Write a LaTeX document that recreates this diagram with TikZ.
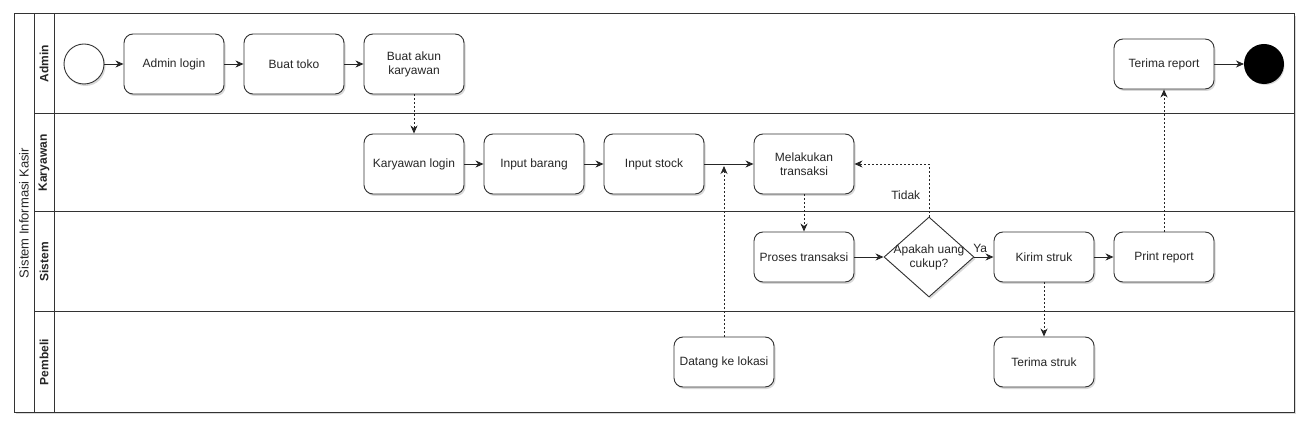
\documentclass[tikz,border=0pt]{standalone}
\usepackage{fontspec}
\setmainfont{Liberation Sans}
\usetikzlibrary{positioning, arrows.meta, shapes.geometric, shadows}
\tikzset {
    >={Stealth[length=8pt, width=7pt, inset=2.5pt]},
    node distance=120pt,
    every node/.style={font=\fontsize{12}{14}\selectfont, text=black!85},
    soft shadow/.style={drop shadow={shadow xshift=1.5pt, shadow yshift=-2pt, opacity=0.3, fill=black!50}},
    task/.style={draw=black!80, line width=0.9pt, rounded corners=9pt, fill=white, soft shadow,
        minimum width=100pt, minimum height=60pt, align=center, inner sep=2pt},
    lowbox/.style={minimum height=50pt},
    startev/.style={draw=black!80, circle, line width=0.9pt, fill=white, soft shadow, minimum size=40pt, inner sep=0pt},
    endev/.style={draw=black, circle, line width=2pt, fill=black, soft shadow, minimum size=38pt, inner sep=0pt},
    decision/.style={draw=black!80, diamond, line width=0.9pt, fill=white, soft shadow,
        minimum width=90pt, minimum height=80pt, inner sep=0pt},
    flow/.style={->, line width=0.9pt, draw=black!85},
    msg/.style={->, line width=0.9pt, draw=black!85, dash pattern=on 2pt off 2pt},
    lane/.style={draw=black!80, line width=1pt},
    lanelabel/.style={rotate=90, font=\bfseries\fontsize{12}{14}\selectfont},
    poollabel/.style={rotate=90, font=\fontsize{13}{15}\selectfont}
}
\begin{document}
\begin{tikzpicture}[x=1pt, y=-1pt]
    \useasboundingbox (0,0) rectangle (1312,430);

    % pool and lanes
    \draw[lane, fill=white, soft shadow] (14,14) rectangle (1294,412);
    \draw[lane] (34,14) -- (34,412) (54,14) -- (54,412);
    \draw[lane] (34,114) -- (1294,114) (34,212) -- (1294,212) (34,312) -- (1294,312);
    \node[poollabel] (pool) at (24,213) {Sistem Informasi Kasir};
    \node[lanelabel] (ladmin) at (44,64) {Admin};
    \node[lanelabel] (lkaryawan) at (44,163) {Karyawan};
    \node[lanelabel] (lsistem) at (44,262) {Sistem};
    \node[lanelabel] (lpembeli) at (44,362) {Pembeli};

    % activities
    \node[startev] (start) at (84,64) {};
    \node[task] (adminlogin) at (174,64) {Admin login};
    \node[task, right of=adminlogin] (buattoko) {Buat toko};
    \node[task, right of=buattoko] (buatakun) {Buat akun\\karyawan};
    \node[task, below of=buatakun, node distance=100pt] (karyawanlogin) {Karyawan login};
    \node[task, right of=karyawanlogin] (inputbarang) {Input barang};
    \node[task, right of=inputbarang] (inputstock) {Input stock};
    \node[task, right of=inputstock, node distance=150pt] (melakukan) {Melakukan\\transaksi};
    \node[task, lowbox] (proses) at (804,257) {Proses transaksi};
    \node[decision, right of=proses, node distance=125pt,
        label={[align=center]center:Apakah uang\\cukup?}] (cek) {};
    \node[task, lowbox, right of=cek, node distance=115pt] (kirim) {Kirim struk};
    \node[task, lowbox, right of=kirim] (printreport) {Print report};
    \node[task, lowbox] (terimareport) at (1164,64) {Terima report};
    \node[endev, right of=terimareport, node distance=100pt] (finish) {};
    \node[task, lowbox] (datang) at (724,362) {Datang ke lokasi};
    \node[task, lowbox, below of=kirim, node distance=105pt] (terimastruk) {Terima struk};
    \coordinate (masuk) at (724,164);

    \draw
    (start) edge[flow] (adminlogin)
    (adminlogin) edge[flow] (buattoko)
    (buattoko) edge[flow] (buatakun)
    (buatakun) edge[msg] (karyawanlogin)
    (karyawanlogin) edge[flow] (inputbarang)
    (inputbarang) edge[flow] (inputstock)
    (inputstock) edge[flow] (melakukan)
    (datang) edge[msg, shorten >=2pt] (masuk)
    (melakukan) edge[msg] (proses)
    (proses) edge[flow] (cek)
    (cek) edge[flow] node[above=1pt, pos=0.3]{Ya} (kirim)
    (kirim) edge[flow] (printreport)
    (kirim) edge[msg] (terimastruk)
    (printreport) edge[msg] (terimareport)
    (terimareport) edge[flow] (finish);
    \draw[msg] (cek.north) |- node[left=5pt, pos=0.2]{Tidak} (melakukan.east);

\end{tikzpicture}
\end{document}
